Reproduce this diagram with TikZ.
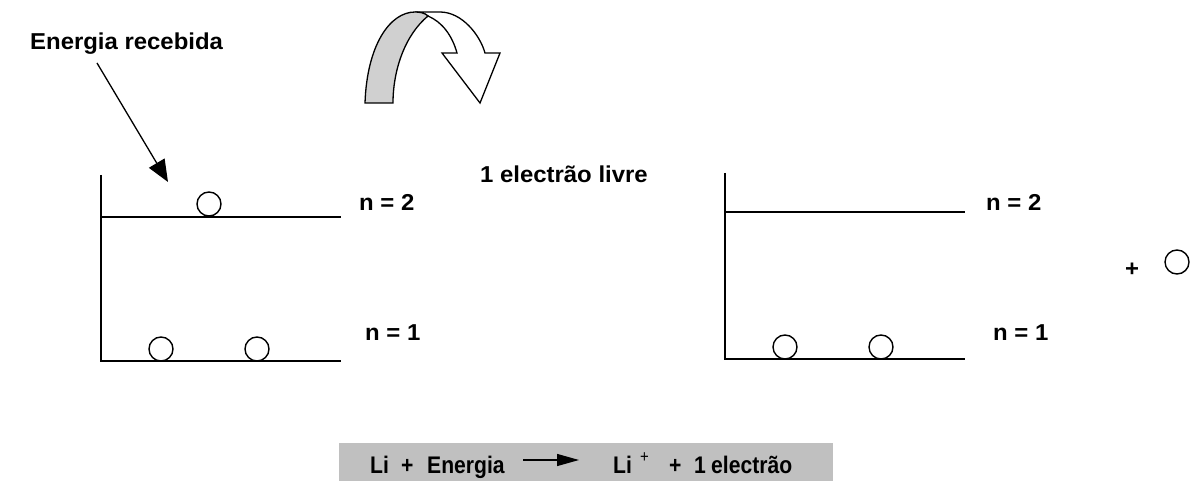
\documentclass[tikz,border=0pt]{standalone}
\usepackage{fontspec}
\setmainfont{Liberation Sans}
\newfontfamily\lblfont[FakeStretch=1.04]{Liberation Sans}
\newfontfamily\eqfont[FakeStretch=0.88]{Liberation Sans}
\usetikzlibrary{arrows.meta}
\definecolor{boxgray}{RGB}{192,192,192}
\definecolor{bandgray}{RGB}{208,208,208}
\tikzset{
  lbl/.style={inner sep=0pt, anchor=base west, font=\lblfont\fontsize{23}{27}\selectfont\bfseries},
  eqt/.style={inner sep=0pt, anchor=base west, font=\eqfont\fontsize{24}{28}\selectfont\bfseries},
  level/.style={line width=1.5pt},
  electron/.style={circle, draw, line width=1.4pt, minimum size=24pt, inner sep=0pt},
  pointer/.style={line width=1.3pt, -{Triangle[length=22pt,width=18pt]}},
}
\begin{document}
\begin{tikzpicture}[x=1pt,y=-1pt]
\useasboundingbox (0,0) rectangle (1196,481);

% curved arrow
\draw[line width=1.3pt, fill=white, line join=miter]
  (415,12) -- (440,12) .. controls (462,12) and (480,35) .. (485,53)
  -- (500,53) -- (480,103) -- (442,53) -- (457,53)
  .. controls (452,35) and (442,22) .. (428,16)
  .. controls (424,13) and (420,12) .. (415,12) -- cycle;
\draw[line width=1.3pt, fill=bandgray]
  (365,103) .. controls (367,45) and (390,12) .. (415,12)
  .. controls (420,12) and (425,13) .. (428,16)
  .. controls (405,35) and (393,70) .. (393,103) -- cycle;

% label with arrow
\node[lbl] (er) at (30,50) {Energia recebida};
\coordinate (erstart) at (97,63);
\coordinate (ertip) at (168,182);
\draw[pointer] (erstart) -- (ertip);

% left diagram
\coordinate (L0) at (101,175);
\coordinate (L2a) at (101,217);
\coordinate (L2b) at (341,217);
\coordinate (L1a) at (101,361);
\coordinate (L1b) at (341,361);
\draw[level] (L0) -- (L1a) -- (L1b);
\draw[level] (L2a) -- (L2b);
\node[electron] (e1) at (209,204) {};
\node[electron] (e2) at (161,349) {};
\node[electron] (e3) at (257,349) {};
\node[lbl] (ln2) at (359,211) {n = 2};
\node[lbl] (ln1) at (365,340) {n = 1};

% free electron text
\node[lbl] (free) at (480,183) {1 electrão livre};

% right diagram
\coordinate (R0) at (725,173);
\coordinate (R2a) at (725,212);
\coordinate (R2b) at (965,212);
\coordinate (R1a) at (725,359);
\coordinate (R1b) at (965,359);
\draw[level] (R0) -- (R1a) -- (R1b);
\draw[level] (R2a) -- (R2b);
\node[electron] (e4) at (785,347) {};
\node[electron] (e5) at (881,347) {};
\node[lbl] (rn2) at (986,211) {n = 2};
\node[lbl] (rn1) at (993,340) {n = 1};
\node[lbl, anchor=center] (plus) at (1132,270) {+};
\node[electron] (e6) at (1177,262) {};

% equation box
\fill[boxgray] (339,443) rectangle (833,481);
\node[eqt] (li1) at (370,473) {Li};
\node[eqt] (p1) at (401,473) {+};
\node[eqt] (en) at (427,473) {Energia};
\coordinate (aS) at (523,460);
\coordinate (aE) at (579,460);
\draw[line width=1.3pt, -{Triangle[length=22pt,width=12pt]}] (aS) -- (aE);
\node[eqt] (li2) at (613,473) {Li};
\node[eqt, font=\eqfont\fontsize{17}{20}\selectfont] (sup) at (640,462) {+};
\node[eqt] (p2) at (669,473) {+};
\node[eqt] (one) at (694,473) {1};
\node[eqt] (el) at (711,473) {electrão};
\end{tikzpicture}
\end{document}
